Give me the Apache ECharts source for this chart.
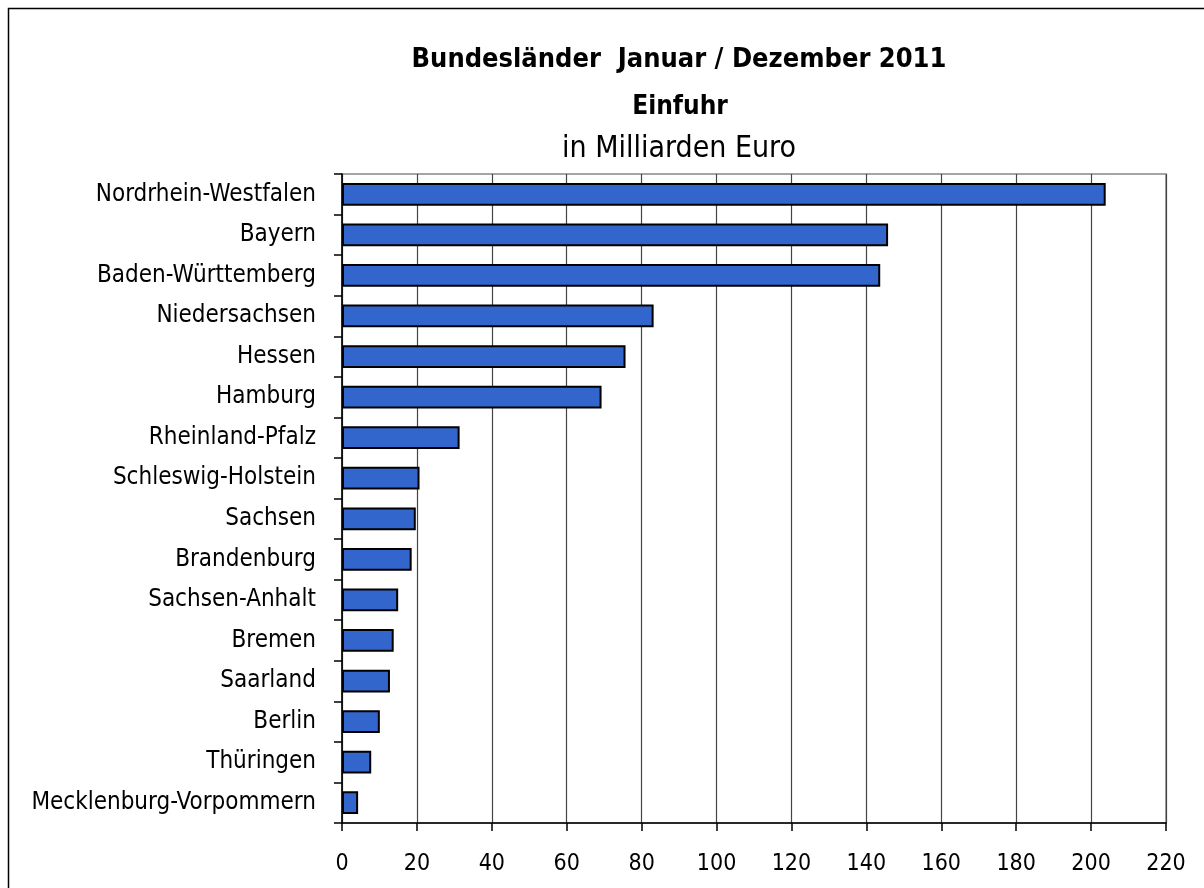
<!DOCTYPE html>
<html>
<head>
<meta charset="utf-8">
<script src="https://cdn.jsdelivr.net/npm/echarts@6/dist/echarts.min.js"></script>
<style>
  html, body { margin: 0; padding: 0; background: #fff; }
  #chart { width: 1204px; height: 888px; }
</style>
</head>
<body>
<div id="chart"></div>
<script>
// Daten: Einfuhr 2011 nach Bundesländern (Mrd. Euro)
var laender = ["Nordrhein-Westfalen", "Bayern", "Baden-Württemberg", "Niedersachsen", "Hessen",
  "Hamburg", "Rheinland-Pfalz", "Schleswig-Holstein", "Sachsen", "Brandenburg",
  "Sachsen-Anhalt", "Bremen", "Saarland", "Berlin", "Thüringen", "Mecklenburg-Vorpommern"];
var einfuhr = [203.9, 145.8, 143.7, 83.2, 75.7, 69.3, 31.4, 20.7, 19.7, 18.6, 15.0, 13.8, 12.8, 10.1, 7.8, 4.3];
var xTicks = [0, 20, 40, 60, 80, 100, 120, 140, 160, 180, 200, 220];

var schrift = "DejaVu Sans Condensed";

var chart = echarts.init(document.getElementById("chart"));
chart.setOption({
  animation: false,
  textStyle: { fontFamily: schrift },
  title: [
    {
      text: "Bundesländer  Januar / Dezember 2011",
      left: 674, top: 41, textAlign: "center",
      textStyle: { fontSize: 27, fontWeight: "bold", color: "#000", fontFamily: schrift }
    },
    {
      text: "Einfuhr",
      left: 675, top: 89, textAlign: "center",
      textStyle: { fontSize: 26, fontWeight: "bold", color: "#000", fontFamily: schrift }
    },
    {
      text: "in Milliarden Euro",
      left: 674, top: 129, textAlign: "center",
      textStyle: { fontSize: 30, fontWeight: "normal", color: "#000", fontFamily: schrift }
    }
  ],
  graphic: [{
    type: "rect",
    shape: { x: 8.5, y: 8.5, width: 1300, height: 1000 },
    style: { fill: "none", stroke: "#000", lineWidth: 1.5 },
    silent: true
  }],
  grid: {
    left: 342, right: 38, top: 174, bottom: 65,
    show: true, borderColor: "#888", borderWidth: 1.5, backgroundColor: "#fff"
  },
  xAxis: {
    type: "value",
    min: 0, max: 220, interval: 20,
    axisLine: { show: true, lineStyle: { color: "#000", width: 1.5 } },
    axisTick: { show: true, length: 8, lineStyle: { color: "#000", width: 1.5 } },
    axisLabel: {
      margin: 30, fontSize: 23, color: "#000", fontFamily: schrift,
      formatter: function (v) { return xTicks.indexOf(v) >= 0 ? String(v) : ""; }
    },
    splitLine: { show: true, lineStyle: { color: "#444", width: 1.2 } }
  },
  yAxis: {
    type: "category",
    data: laender,
    inverse: true,
    axisLine: { show: true, lineStyle: { color: "#000", width: 1.5 } },
    axisTick: { show: true, length: 8, lineStyle: { color: "#000", width: 1.5 } },
    axisLabel: { margin: 26, fontSize: 24, color: "#000", fontFamily: schrift },
    splitLine: { show: false }
  },
  series: [{
    type: "bar",
    data: einfuhr,
    barCategoryGap: "44%",
    itemStyle: { color: "#3366CC", borderColor: "#000", borderWidth: 2 }
  }]
});
</script>
</body>
</html>
